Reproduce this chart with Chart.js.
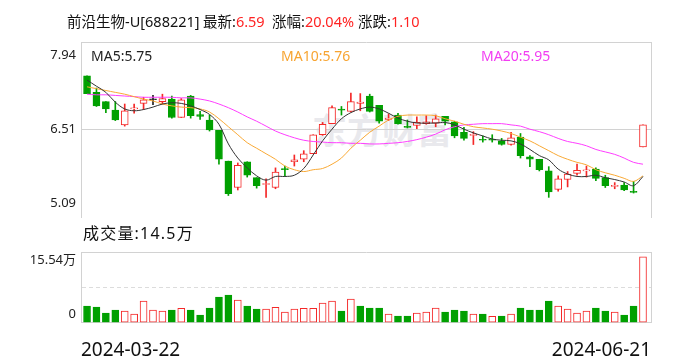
<!DOCTYPE html>
<html>
<head>
<meta charset="utf-8">
<script src="https://cdn.jsdelivr.net/npm/chart.js@4.4.1/dist/chart.umd.min.js"></script>
<style>
  body { margin: 0; background: #fff; }
  #wrap { position: relative; width: 688px; height: 360px; overflow: hidden; font-family: "Noto Sans", "Noto Sans CJK SC", sans-serif; }
  .t { position: absolute; white-space: nowrap; color: #111; line-height: 20px; }
  .hd { font-size: 14.5px; top: 11px; }
  .red { color: #ff2323; }
  .box { position: absolute; left: 0; width: 688px; }
</style>
</head>
<body>
<div id="wrap">
  <div class="t" style="left:312px;top:112px;font-size:35px;line-height:38px;font-weight:bold;color:#e9e9ed">东方财富</div>
  <div class="box" style="top:0;height:230px"><canvas id="priceChart"></canvas></div>
  <div class="box" style="top:240px;height:120px"><canvas id="volChart"></canvas></div>

  <div class="t hd" id="tName" style="left:67px"></div>
  <div class="t hd" id="tLast" style="left:203px"></div>
  <div class="t hd" id="tPct" style="left:272px"></div>
  <div class="t hd" id="tChg" style="left:358px"></div>

  <div class="t" id="lMa5" style="left:91px;top:46px;font-size:14px;color:#222"></div>
  <div class="t" id="lMa10" style="left:281px;top:46px;font-size:14px;color:#f7a431"></div>
  <div class="t" id="lMa20" style="left:481px;top:46px;font-size:14px;color:#f23ef2"></div>

  <div class="t" id="lVol" style="left:83px;top:223px;font-size:16px;letter-spacing:1.2px"></div>
</div>
<script>
const stockName = '前沿生物-U[688221]';
const dates = ['2024-03-22', '2024-06-21'];

const open = [7.39, 7.12, 6.97, 6.83, 6.59, 6.85, 6.94, 7.00, 6.97, 7.01,
  6.71, 7.06, 6.76, 6.67, 6.50, 6.00, 5.57, 5.99, 5.73, 5.62,
  5.57, 5.88, 5.99, 6.03, 6.12, 6.43, 6.61, 6.84, 6.81, 6.94,
  7.06, 6.91, 6.68, 6.75, 6.56, 6.58, 6.61, 6.62, 6.73, 6.64,
  6.47, 6.42, 6.35, 6.35, 6.33, 6.27, 6.39, 6.07, 6.03, 5.84,
  5.54, 5.70, 5.80, 5.84, 5.87, 5.73, 5.59, 5.61, 5.51, 6.23];
const high = [7.39, 7.19, 6.97, 6.97, 6.93, 6.93, 7.04, 7.07, 7.09, 7.06,
  7.02, 7.07, 6.81, 6.75, 6.50, 6.00, 5.97, 5.99, 5.73, 5.71,
  5.89, 5.92, 6.10, 6.17, 6.43, 6.63, 6.90, 6.89, 7.11, 7.10,
  7.09, 6.91, 6.77, 6.78, 6.67, 6.72, 6.74, 6.75, 6.73, 6.65,
  6.55, 6.48, 6.41, 6.43, 6.37, 6.47, 6.45, 6.09, 6.03, 5.91,
  5.76, 5.83, 5.95, 5.92, 5.89, 5.77, 5.65, 5.65, 5.67, 6.59];
const low = [7.10, 6.89, 6.79, 6.66, 6.57, 6.78, 6.84, 6.92, 6.93, 6.70,
  6.71, 6.70, 6.68, 6.49, 5.95, 5.44, 5.53, 5.74, 5.56, 5.41,
  5.55, 5.76, 5.92, 5.99, 6.12, 6.42, 6.61, 6.75, 6.80, 6.82,
  6.80, 6.62, 6.66, 6.60, 6.54, 6.53, 6.60, 6.56, 6.59, 6.38,
  6.34, 6.27, 6.31, 6.31, 6.26, 6.26, 6.05, 5.91, 5.84, 5.41,
  5.51, 5.58, 5.77, 5.74, 5.68, 5.57, 5.55, 5.52, 5.48, 6.23];
const close = [7.10, 6.90, 6.85, 6.67, 6.82, 6.86, 7.00, 7.00, 7.02, 6.71,
  7.00, 6.74, 6.73, 6.51, 6.03, 5.47, 5.93, 5.77, 5.60, 5.63,
  5.82, 5.86, 6.02, 6.12, 6.43, 6.60, 6.87, 6.83, 6.97, 6.96,
  6.81, 6.65, 6.70, 6.61, 6.55, 6.63, 6.64, 6.69, 6.65, 6.41,
  6.37, 6.43, 6.34, 6.34, 6.27, 6.38, 6.09, 6.03, 5.86, 5.50,
  5.71, 5.79, 5.85, 5.85, 5.72, 5.60, 5.60, 5.53, 5.49, 6.59];
// 成交量, 万手
const volume = [3.66, 3.44, 2.12, 2.78, 2.56, 1.90, 4.75, 2.78, 2.56, 2.78,
  3.15, 2.78, 1.69, 3.22, 5.63, 6.06, 4.97, 3.66, 3.00, 3.00,
  3.37, 2.34, 3.00, 3.15, 3.15, 4.31, 4.75, 2.56, 5.19, 3.66,
  3.22, 3.22, 1.90, 1.47, 1.47, 2.12, 2.34, 3.22, 2.34, 2.78,
  2.56, 1.90, 1.90, 1.40, 1.47, 1.90, 3.22, 2.78, 2.78, 4.75,
  3.66, 3.00, 2.12, 2.56, 3.22, 2.56, 2.34, 1.69, 3.66, 14.5];
const ma5 = [7.32, 7.22, 7.12, 6.96, 6.85, 6.82, 6.84, 6.88, 6.93, 6.95,
  6.94, 6.90, 6.84, 6.76, 6.60, 6.28, 6.05, 5.89, 5.76, 5.69,
  5.75, 5.75, 5.77, 5.88, 6.10, 6.33, 6.52, 6.69, 6.79, 6.85,
  6.88, 6.85, 6.78, 6.70, 6.65, 6.62, 6.62, 6.62, 6.63, 6.59,
  6.52, 6.46, 6.41, 6.36, 6.34, 6.33, 6.28, 6.19, 6.09, 6.02,
  5.87, 5.79, 5.75, 5.75, 5.77, 5.73, 5.70, 5.66, 5.60, 5.75];
const ma10 = [7.21, 7.18, 7.15, 7.12, 7.09, 7.05, 7.01, 6.98, 6.93, 6.90,
  6.88, 6.87, 6.85, 6.80, 6.69, 6.56, 6.43, 6.30, 6.21, 6.12,
  6.03, 5.92, 5.86, 5.83, 5.86, 5.88, 5.95, 6.05, 6.21, 6.34,
  6.47, 6.57, 6.67, 6.73, 6.75, 6.75, 6.75, 6.74, 6.69, 6.65,
  6.60, 6.56, 6.54, 6.52, 6.49, 6.45, 6.39, 6.33, 6.25, 6.17,
  6.09, 6.03, 5.98, 5.94, 5.86, 5.81, 5.77, 5.72, 5.67, 5.76];
const ma20 = [7.09, 7.08, 7.08, 7.07, 7.06, 7.05, 7.04, 7.04, 7.04, 7.04,
  7.03, 7.03, 7.01, 6.98, 6.93, 6.87, 6.80, 6.72, 6.65, 6.57,
  6.49, 6.43, 6.38, 6.34, 6.32, 6.31, 6.30, 6.30, 6.29, 6.29,
  6.28, 6.28, 6.29, 6.30, 6.32, 6.35, 6.39, 6.44, 6.51, 6.56,
  6.59, 6.60, 6.61, 6.61, 6.61, 6.59, 6.57, 6.52, 6.48, 6.43,
  6.37, 6.32, 6.29, 6.25, 6.19, 6.15, 6.11, 6.05, 5.98, 5.95];
const prevClose0 = 7.40; // close of the day before the first bar (not shown)

const priceTicks = [5.09, 5.8025, 6.515, 7.2275, 7.94];
const priceTickLabels = ['5.09', '', '6.51', '', '7.94'];
const volTicks = [0, 7.77, 15.54];
const volTickLabels = ['0', '', '15.54万'];

const RED = '#f42828', GREEN = '#00a000', DOJI = '#222';
const FRAME = '#d2d2d2', DASH = '#dcdcdc';
const xMin = -0.64, xMax = 59.85;

Chart.defaults.font.family = '"Noto Sans", "Noto Sans CJK SC", sans-serif';

const idx = close.map((_, i) => i);
const candleColor = idx.map(i => close[i] > open[i] ? RED : close[i] < open[i] ? GREEN : DOJI);
const bodyFill = idx.map(i => close[i] > open[i] ? '#fff' : candleColor[i]);
const volUp = idx.map(i => close[i] >= (i ? close[i - 1] : prevClose0));

// header texts
const last = close[close.length - 1], prev = close[close.length - 2];
document.getElementById('tName').textContent = stockName;
document.getElementById('tLast').innerHTML = '最新:<span class="red">' + last.toFixed(2) + '</span>';
document.getElementById('tPct').innerHTML = '涨幅:<span class="red">' + ((last / prev - 1) * 100).toFixed(2) + '%</span>';
document.getElementById('tChg').innerHTML = '涨跌:<span class="red">' + (last - prev).toFixed(2) + '</span>';
document.getElementById('lMa5').textContent = 'MA5:' + ma5[ma5.length - 1].toFixed(2);
document.getElementById('lMa10').textContent = 'MA10:' + ma10[ma10.length - 1].toFixed(2);
document.getElementById('lMa20').textContent = 'MA20:' + ma20[ma20.length - 1].toFixed(2);
document.getElementById('lVol').textContent = '成交量:' + volume[volume.length - 1].toFixed(1) + '万';

function edgeLabel(labels, i) {
  if (i === 0) return [labels[i], ''];
  if (i === labels.length - 1) return ['', labels[i]];
  return labels[i];
}

// keep the edge labels from pushing the plot area around
function fixAxis(width) {
  return s => { s.width = width; s.paddingTop = 0; s.paddingBottom = 0; };
}

function maLine(values, color) {
  return {
    type: 'line',
    data: idx.map(i => ({ x: i, y: values[i] })),
    borderColor: color,
    borderWidth: 1,
    pointRadius: 0,
    tension: 0.35,
    order: 0
  };
}

new Chart(document.getElementById('priceChart'), {
  type: 'bar',
  data: {
    datasets: [
      maLine(ma5, '#333'),
      maLine(ma10, '#f9a935'),
      maLine(ma20, '#ff3dff'),
      {
        data: idx.map(i => ({ x: i, y: [Math.min(open[i], close[i]), Math.max(open[i], close[i])] })),
        backgroundColor: bodyFill,
        borderColor: candleColor,
        borderWidth: 1,
        borderSkipped: false,
        barThickness: 7,
        minBarLength: 1,
        grouped: false,
        order: 1
      },
      {
        data: idx.map(i => ({ x: i, y: [low[i], high[i]] })),
        backgroundColor: candleColor,
        barThickness: 1,
        grouped: false,
        order: 2
      }
    ]
  },
  options: {
    responsive: true,
    maintainAspectRatio: false,
    animation: false,
    layout: { padding: { top: 42, bottom: 13, left: 0, right: 0 } },
    plugins: { legend: { display: false }, tooltip: { enabled: false } },
    scales: {
      x: { type: 'linear', min: xMin, max: xMax, offset: false, display: false },
      y: {
        position: 'left', min: priceTicks[0], max: priceTicks[priceTicks.length - 1], beginAtZero: false,
        afterBuildTicks: s => { s.ticks = priceTicks.map(v => ({ value: v })); },
        afterFit: fixAxis(81),
        ticks: {
          callback: (v, i) => edgeLabel(priceTickLabels, i),
          padding: 5, color: '#222',
          font: { size: 13, lineHeight: 2.05 }
        },
        grid: {
          drawTicks: false,
          color: c => c.index === 0 ? 'rgba(0,0,0,0)' : (c.index % 2 ? DASH : FRAME)
        },
        border: { display: true, color: FRAME, dash: c => (c.index % 2 ? [4, 3] : []) }
      },
      y2: {
        position: 'right', min: priceTicks[0], max: priceTicks[priceTicks.length - 1],
        afterFit: fixAxis(37),
        ticks: { display: false },
        grid: { display: false },
        border: { display: true, color: FRAME }
      }
    }
  }
});

new Chart(document.getElementById('volChart'), {
  type: 'bar',
  data: {
    datasets: [{
      data: idx.map(i => ({ x: i, y: volume[i] })),
      backgroundColor: idx.map(i => volUp[i] ? '#fff' : GREEN),
      borderColor: idx.map(i => volUp[i] ? RED : GREEN),
      borderWidth: 1,
      borderSkipped: false,
      barThickness: 7
    }]
  },
  options: {
    responsive: true,
    maintainAspectRatio: false,
    animation: false,
    layout: { padding: { top: 12, bottom: 0, left: 0, right: 0 } },
    plugins: { legend: { display: false }, tooltip: { enabled: false } },
    scales: {
      x: {
        type: 'linear', min: xMin, max: xMax, offset: false,
        afterBuildTicks: s => { s.ticks = [{ value: xMin }, { value: xMax }]; },
        afterFit: s => { s.height = 37.3; s.paddingLeft = 0; s.paddingRight = 0; },
        ticks: {
          callback: (v, i) => dates[i],
          align: 'inner', maxRotation: 0, autoSkip: false,
          padding: 8, color: '#111', font: { size: 19 }
        },
        grid: { display: false, offset: false },
        border: { display: false }
      },
      y: {
        position: 'left', min: volTicks[0], max: volTicks[volTicks.length - 1],
        afterBuildTicks: s => { s.ticks = volTicks.map(v => ({ value: v })); },
        afterFit: fixAxis(81),
        ticks: {
          callback: (v, i) => edgeLabel(volTickLabels, i),
          padding: 5, color: '#222',
          font: { size: 13, lineHeight: 1.23 }
        },
        grid: { drawTicks: false, color: c => (c.index % 2 ? DASH : FRAME) },
        border: { display: true, color: FRAME, dash: c => (c.index % 2 ? [4, 3] : []) }
      },
      y2: {
        position: 'right', min: volTicks[0], max: volTicks[volTicks.length - 1],
        afterFit: fixAxis(37),
        ticks: { display: false },
        grid: { display: false },
        border: { display: true, color: FRAME }
      }
    }
  }
});
</script>
</body>
</html>
